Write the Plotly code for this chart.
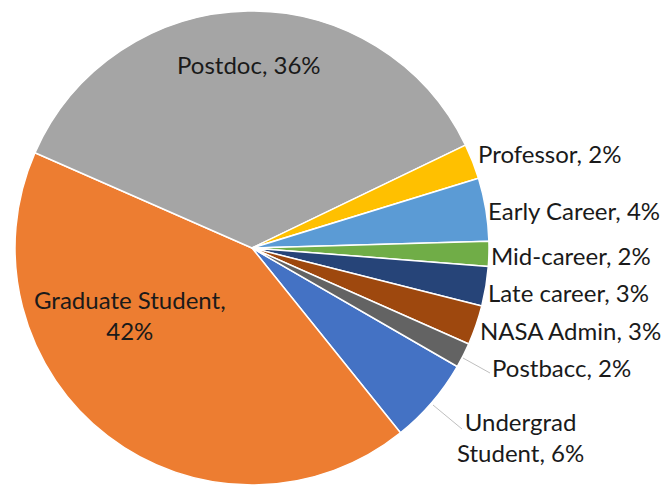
import plotly.graph_objects as go

# Data (clockwise order, Office palette order)
labels = ["Undergrad Student", "Graduate Student", "Postdoc", "Professor",
          "Early Career", "Mid-career", "Late career", "NASA Admin", "Postbacc"]
values = [5.9, 42.4, 36.3, 2.4, 4.3, 1.7, 2.7, 2.7, 1.7]
colors = ["#4472C4", "#ED7D31", "#A5A5A5", "#FFC000", "#5B9BD5",
          "#70AD47", "#264478", "#9E480E", "#636363"]

W, H = 663, 485
total = sum(values)
pcts = [round(100 * v / total) for v in values]
texts = [f"{l}, {p}%" for l, p in zip(labels, pcts)]
texts[0] = texts[0].replace("Undergrad ", "Undergrad<br>")
texts[1] = texts[1].replace("Student, ", "Student,<br>")

# label centre positions in pixels (layout only)
label_pos = [(520, 437), (130, 315), (249, 65), (549, 153), (574, 210),
             (571, 255), (568, 292), (570, 330), (561, 367)]

fig = go.Figure(go.Pie(
    labels=labels, values=values, sort=False, direction="clockwise",
    rotation=120, marker=dict(colors=colors, line=dict(color="white", width=1.5)),
    textinfo="none", hoverinfo="label+percent", showlegend=False,
    domain=dict(x=[14 / W, 490 / W], y=[0, 474 / H]),
))

font = dict(family="Lato, Carlito, Calibri, sans-serif", size=24, color="#1a1a1a")
for t, (px, py) in zip(texts, label_pos):
    fig.add_annotation(x=px / W, y=1 - py / H, xref="paper", yref="paper",
                       text=t, showarrow=False, xanchor="center", yanchor="middle",
                       font=font, align="center")

# leader lines
leaders = [((433, 405), (462, 429)), ((463, 358), (490, 373))]
for (x0, y0), (x1, y1) in leaders:
    fig.add_shape(type="line", xref="paper", yref="paper",
                  x0=x0 / W, y0=1 - y0 / H, x1=x1 / W, y1=1 - y1 / H,
                  line=dict(color="#BFBFBF", width=1))

fig.update_layout(width=W, height=H, margin=dict(l=0, r=0, t=0, b=0),
                  paper_bgcolor="white", plot_bgcolor="white")
fig.write_html("out.html", config={"displayModeBar": False},
               post_script="document.body.style.margin='0';")
